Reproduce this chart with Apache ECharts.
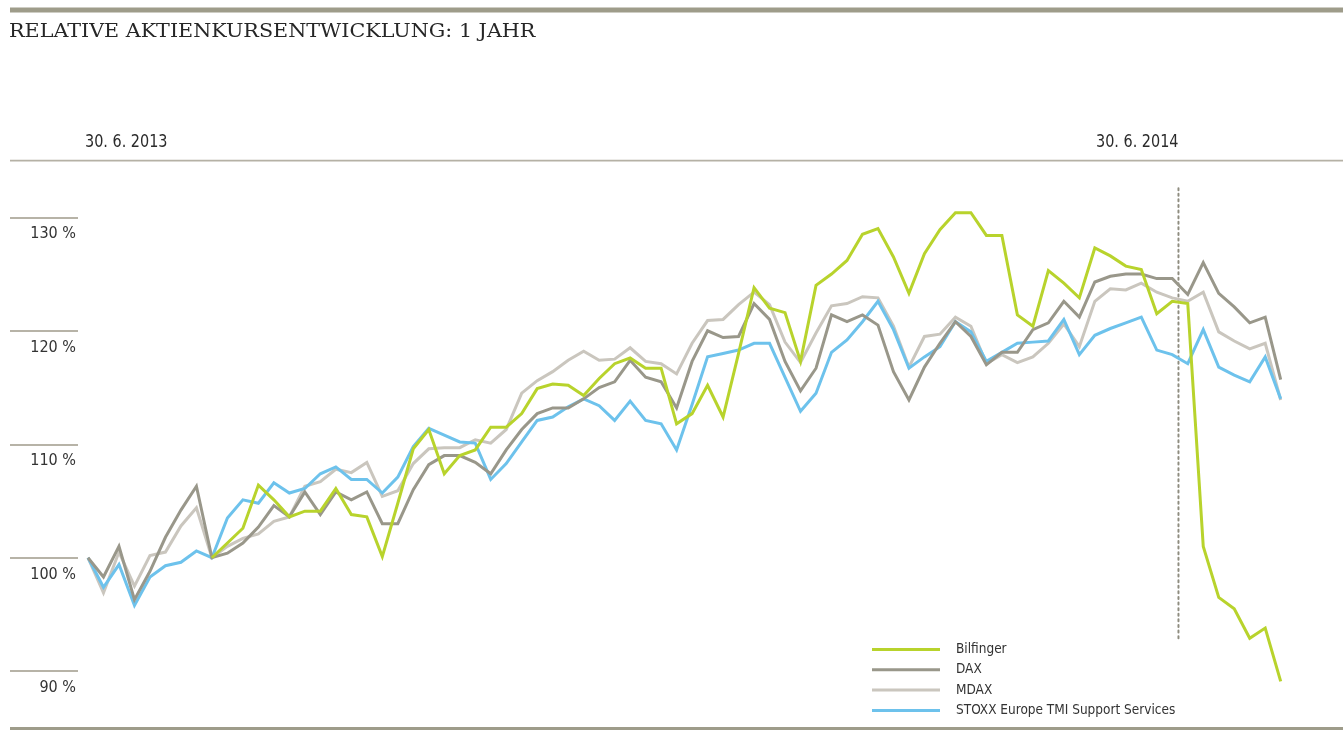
<!DOCTYPE html>
<html>
<head>
<meta charset="utf-8">
<script src="https://cdn.jsdelivr.net/npm/echarts@6/dist/echarts.min.js"></script>
<style>
html,body{margin:0;padding:0;background:#fff;}
#chart{width:1343px;height:731px;}
</style>
</head>
<body>
<div id="chart"></div>
<script>
// ---- data (weekly steps, index 0 = 30.6.2013) ----
const titleText = 'RELATIVE AKTIENKURSENTWICKLUNG: 1 JAHR';
const seriesNames = ['Bilfinger', 'DAX', 'MDAX', 'STOXX Europe TMI Support Services'];
const dateLabels = ['30. 6. 2013', '30. 6. 2014'];
const datePositions = [0, 70.4];      // week index of the two dates
const markerRange = [132.57, 92.75];  // vertical extent of the dotted date marker (%)

const bilfinger = [null,null,null,null,null,null,null,null,
  100.0,101.3,102.6,106.4,105.1,103.6,104.1,104.1,106.1,103.8,
  103.6,100.1,104.8,109.6,111.3,107.4,109.0,109.5,111.5,111.5,
  112.7,114.9,115.3,115.2,114.3,115.8,117.1,117.6,116.7,116.7,
  111.8,112.7,115.2,112.4,118.0,123.8,122.0,121.6,117.3,124.0,
  125.0,126.2,128.5,129.0,126.5,123.3,126.8,128.9,130.4,130.4,
  128.4,128.4,121.4,120.4,125.3,124.2,122.9,127.3,126.6,125.7,
  125.4,121.5,122.6,122.4,101.0,96.5,95.5,92.9,93.8,89.1];

const dax = [100.0,98.3,101.0,96.3,98.8,101.8,104.2,106.3,
  100.0,100.4,101.3,102.7,104.6,103.6,105.8,103.8,105.8,105.1,
  105.8,103.0,103.0,106.0,108.2,109.0,109.0,108.4,107.4,109.5,
  111.3,112.7,113.2,113.2,114.0,115.0,115.5,117.4,115.9,115.5,
  113.2,117.3,120.0,119.4,119.5,122.4,121.0,117.3,114.7,116.7,
  121.4,120.8,121.4,120.5,116.4,113.9,116.8,118.9,120.8,119.5,
  117.0,118.1,118.1,120.1,120.7,122.6,121.2,124.3,124.8,125.0,
  125.0,124.6,124.6,123.2,126.0,123.3,122.1,120.7,121.2,115.7];

const mdax = [100.0,96.9,100.5,97.5,100.2,100.5,102.8,104.4,
  100.0,101.0,101.7,102.1,103.2,103.6,106.3,106.7,107.8,107.5,
  108.4,105.4,105.9,108.3,109.6,109.7,109.7,110.4,110.1,111.3,
  114.5,115.6,116.4,117.4,118.2,117.4,117.5,118.5,117.3,117.1,
  116.2,118.9,120.9,121.0,122.3,123.4,122.3,119.0,117.2,119.8,
  122.2,122.4,123.0,122.9,120.4,116.8,119.5,119.7,121.2,120.4,
  117.1,117.9,117.2,117.7,118.9,120.6,118.6,122.6,123.7,123.6,
  124.2,123.4,122.9,122.6,123.4,119.9,119.1,118.4,118.9,113.9];

const stoxx = [100.0,97.4,99.4,95.8,98.3,99.3,99.6,100.6,
  100.0,103.5,105.1,104.8,106.6,105.7,106.1,107.4,108.0,106.9,
  106.9,105.7,107.1,109.8,111.4,110.8,110.2,110.1,106.9,108.3,
  110.2,112.1,112.4,113.3,114.0,113.4,112.1,113.8,112.1,111.8,
  109.5,113.5,117.7,118.0,118.3,118.9,118.9,115.9,112.9,114.5,
  118.1,119.2,120.8,122.6,120.1,116.7,117.7,118.6,120.8,119.9,
  117.3,118.1,118.9,119.0,119.1,121.0,117.9,119.6,120.2,120.7,
  121.2,118.3,117.9,117.1,120.1,116.8,116.1,115.5,117.7,114.0];

const colors = {
  'Bilfinger': '#b8d32c',
  'DAX': '#99978a',
  'MDAX': '#cac6be',
  'STOXX Europe TMI Support Services': '#6dc2ec'
};
const valuesByName = {
  'Bilfinger': bilfinger, 'DAX': dax, 'MDAX': mdax,
  'STOXX Europe TMI Support Services': stoxx
};

const cond = '"DejaVu Sans Condensed","Liberation Sans Narrow",sans-serif';
const ruleColor = '#9e9c8a';

function toPairs(arr) { return arr.map((v, i) => [i, v]); }

function makeSeries(name, z) {
  return {
    name: name,
    type: 'line',
    data: toPairs(valuesByName[name]),
    symbol: 'none',
    clip: false,
    z: z,
    lineStyle: { color: colors[name], width: 3, join: 'miter' },
    itemStyle: { color: colors[name] },
    emphasis: { disabled: true },
    animation: false
  };
}

const chart = echarts.init(document.getElementById('chart'), null, { renderer: 'canvas' });

const drawOrder = ['MDAX', 'STOXX Europe TMI Support Services', 'DAX', 'Bilfinger'];
const series = [{
  name: 'marker',
  type: 'line',
  data: [[datePositions[1], markerRange[0]], [datePositions[1], markerRange[1]]],
  symbol: 'none',
  clip: false,
  silent: true,
  z: 1,
  lineStyle: { color: '#8f8d80', width: 2, type: [2, 3.6], cap: 'round' },
  animation: false
}].concat(drawOrder.map((n, i) => makeSeries(n, 2 + i)));

function staticGraphics(x0, x1) {
  const g = [
    { type: 'rect', shape: { x: 10, y: 7.5, width: 1333, height: 5 }, style: { fill: ruleColor }, silent: true },
    { type: 'rect', shape: { x: 10, y: 159.8, width: 1333, height: 1.6 }, style: { fill: '#b5b1a5' }, silent: true },
    { type: 'rect', shape: { x: 10, y: 727, width: 1333, height: 3 }, style: { fill: ruleColor }, silent: true },
    { type: 'text', x: 9, y: 32.5, scaleX: 1.088, silent: true,
      style: { text: titleText, font: '19px "DejaVu Serif","Liberation Serif",serif', fill: '#262626', verticalAlign: 'middle' } }
  ];
  if (x0 != null) {
    g.push({ type: 'text', x: x0 - 3, y: 142, scaleX: 0.89, silent: true,
      style: { text: dateLabels[0], font: '18px ' + cond, fill: '#2b2b2b', align: 'left', verticalAlign: 'middle' } });
    g.push({ type: 'text', x: x1, y: 142, scaleX: 0.89, silent: true,
      style: { text: dateLabels[1], font: '18px ' + cond, fill: '#2b2b2b', align: 'right', verticalAlign: 'middle' } });
  }
  return g;
}

const option = {
  backgroundColor: '#ffffff',
  animation: false,
  // y-axis sits at x=78; first data point (index 0) at x=88
  grid: { left: 78, width: 1202.7, top: 217.3, height: 453.9, outerBoundsMode: 'none' },
  xAxis: { type: 'value', min: -0.6456, max: 77, show: false },
  yAxis: {
    type: 'value', min: 90, max: 130, interval: 10,
    axisLine: { show: false, onZero: false },
    splitLine: { show: false },
    axisTick: { show: true, length: 68, lineStyle: { color: '#b7b3a7', width: 2 } },
    axisLabel: {
      formatter: '{value} %',
      margin: 2,
      verticalAlign: 'top',
      padding: [9, 0, 0, 0],
      fontFamily: cond, fontSize: 16, lineHeight: 16, color: '#333333'
    }
  },
  legend: {
    data: seriesNames,
    orient: 'vertical',
    left: 872, top: 641.5, padding: 0,
    itemWidth: 68, itemHeight: 3, itemGap: 4.3,
    icon: 'rect',
    selectedMode: false,
    textStyle: { fontFamily: cond, fontSize: 13.5, lineHeight: 16, color: '#333333', padding: [0, 0, 0, 11] }
  },
  graphic: staticGraphics(null, null),
  series: series
};
chart.setOption(option);

// date labels tied to the x scale
const x0 = chart.convertToPixel({ xAxisIndex: 0 }, datePositions[0]);
const x1 = chart.convertToPixel({ xAxisIndex: 0 }, datePositions[1]);
chart.setOption({ graphic: staticGraphics(x0, x1) }, { replaceMerge: ['graphic'] });
</script>
</body>
</html>
